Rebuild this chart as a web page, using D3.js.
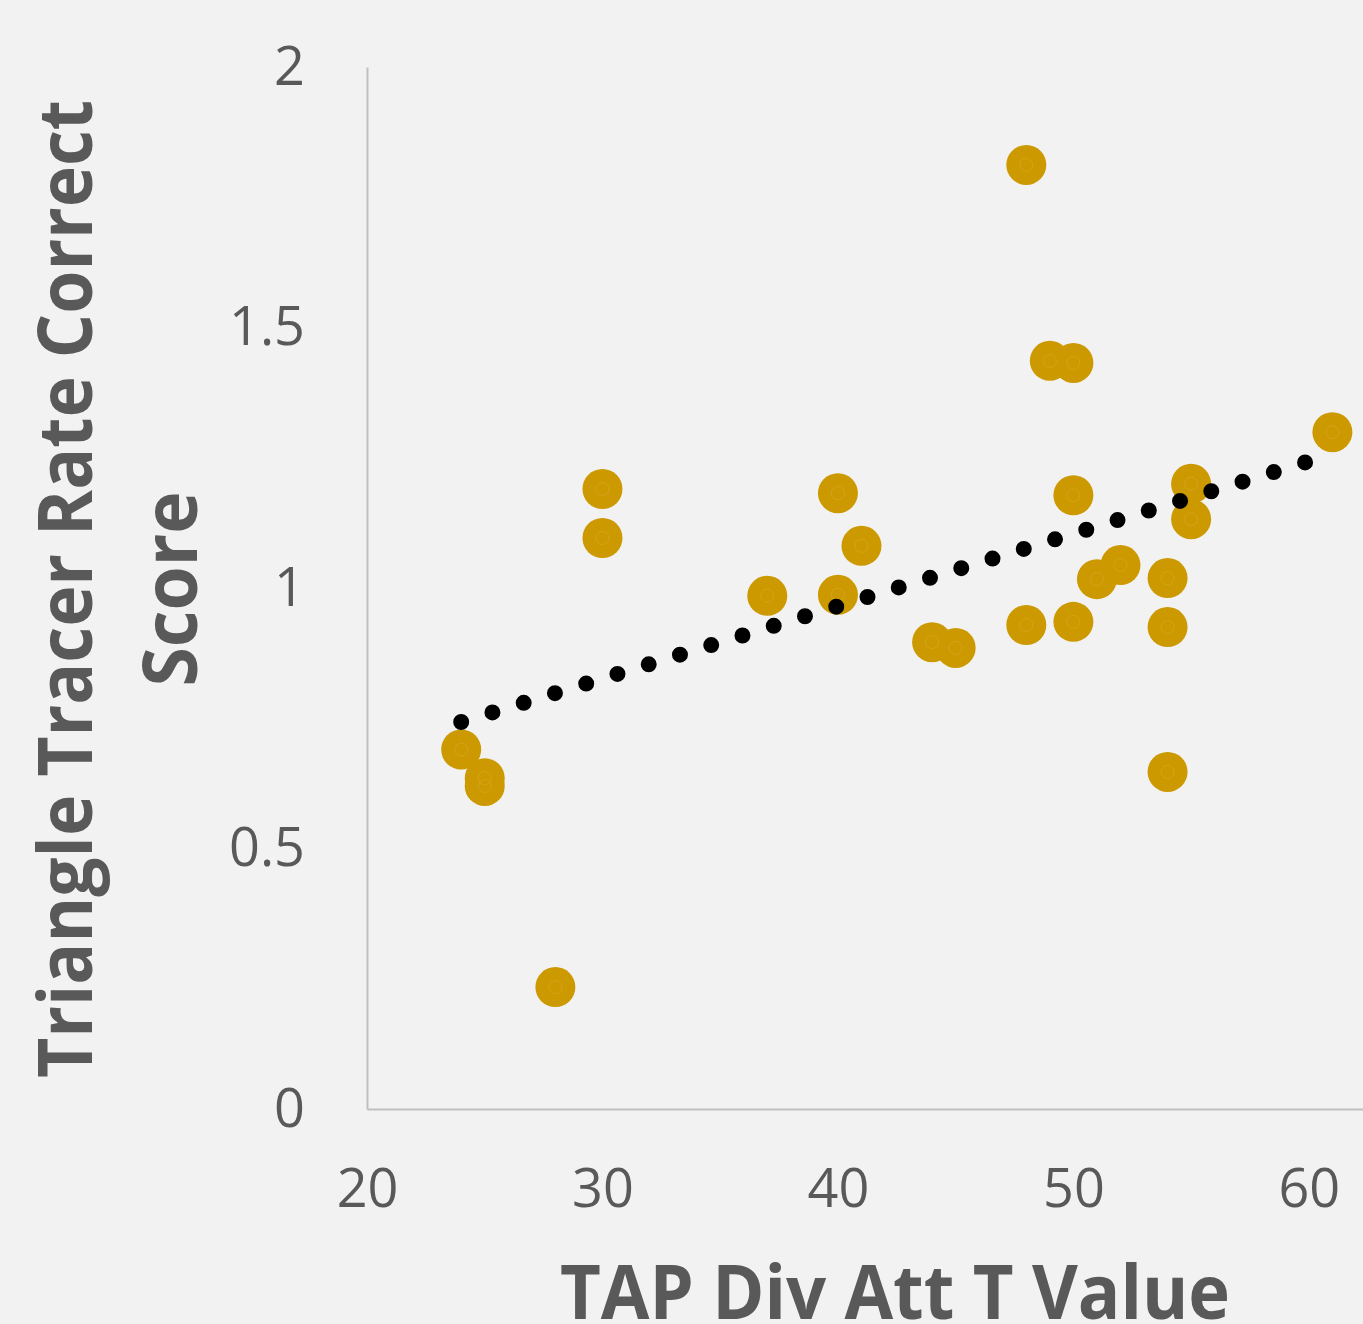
<!DOCTYPE html>
<html>
<head>
<meta charset="utf-8">
<script src="https://cdn.jsdelivr.net/npm/d3@7"></script>
<style>
  html, body { margin: 0; padding: 0; background: #f2f2f2; }
  #chart { width: 1363px; height: 1324px; }
</style>
</head>
<body>
<div id="chart"></div>
<script>
// values
const tapValues = [24, 25, 25, 28, 30, 30, 37, 40, 40, 41, 44, 45, 48, 48, 49, 50, 50, 50, 51, 52, 54, 54, 54, 55, 55, 61];
const tracerScores = [0.69, 0.635, 0.62, 0.234, 1.19, 1.096, 0.985, 1.182, 0.987, 1.081, 0.896, 0.885, 1.812, 0.929,
    1.436, 1.432, 1.178, 0.935, 1.017, 1.044, 1.019, 0.925, 0.647, 1.2, 1.132, 1.299];
const xTicks = [20, 30, 40, 50, 60];
const yTicks = [0, 0.5, 1, 1.5, 2];
const xTitle = "TAP Div Att T Value";
const yTitleLines = ["Triangle Tracer Rate Correct", "Score"];

const width = 1363, height = 1324;
const textColor = "#595959";
const markerColor = "#cc9900";

const svg = d3.select("#chart").append("svg")
    .attr("width", width)
    .attr("height", height)
    .attr("viewBox", `0 0 ${width} ${height}`)
    .style("background-color", "#f2f2f2");

const xScale = d3.scaleLinear().domain([20, 62.3]).range([367, 1363]);
const yScale = d3.scaleLinear().domain([0, 2]).range([1109, 67]);

// axes
const xAxis = svg.append("g")
    .attr("transform", `translate(0,${yScale(0)})`)
    .call(d3.axisBottom(xScale).tickValues(xTicks).tickSize(0).tickPadding(60).tickFormat(d => d));
const yAxis = svg.append("g")
    .attr("transform", `translate(${xScale(20)},0)`)
    .call(d3.axisLeft(yScale).tickValues(yTicks).tickSize(0).tickPadding(62).tickFormat(d => d));

[xAxis, yAxis].forEach(ax => {
    ax.select(".domain").attr("stroke", "#bfbfbf").attr("stroke-width", 2);
    ax.selectAll("text")
        .attr("fill", textColor)
        .style("font-family", "'Open Sans', sans-serif")
        .style("font-size", "54px");
});

// points
const pts = tapValues.map((x, i) => ({x: x, y: tracerScores[i]}));
const dots = svg.append("g").attr("class", "points");
dots.selectAll("circle.pt")
    .data(pts)
    .join("circle")
    .attr("class", "pt")
    .attr("cx", d => xScale(d.x))
    .attr("cy", d => yScale(d.y))
    .attr("r", 20)
    .attr("fill", markerColor);
dots.selectAll("circle.ring")
    .data(pts)
    .join("circle")
    .attr("class", "ring")
    .attr("cx", d => xScale(d.x))
    .attr("cy", d => yScale(d.y))
    .attr("r", 6.5)
    .attr("fill", "none")
    .attr("stroke", "rgba(255,255,255,0.1)")
    .attr("stroke-width", 1);

// linear trendline (least squares)
const mx = d3.mean(tapValues), my = d3.mean(tracerScores);
const slope = d3.sum(pts, d => (d.x - mx) * (d.y - my)) / d3.sum(pts, d => (d.x - mx) ** 2);
const intercept = my - slope * mx;
const xr = d3.extent(tapValues);
const trend = xr.map(x => ({x: x, y: intercept + slope * x}));
svg.append("path")
    .datum(trend)
    .attr("d", d3.line().x(d => xScale(d.x)).y(d => yScale(d.y)))
    .attr("fill", "none")
    .attr("stroke", "#000")
    .attr("stroke-width", 16)
    .attr("stroke-linecap", "round")
    .attr("stroke-dasharray", "0 32.7");

// titles
svg.append("text")
    .attr("x", 895)
    .attr("y", 1319)
    .attr("text-anchor", "middle")
    .attr("textLength", 670)
    .attr("lengthAdjust", "spacingAndGlyphs")
    .attr("fill", textColor)
    .style("font-family", "'Open Sans', sans-serif")
    .style("font-weight", "bold")
    .style("font-size", "76px")
    .text(xTitle);

const yTitle = svg.append("g");
yTitle.selectAll("text")
    .data(yTitleLines)
    .join("text")
    .attr("transform", (d, i) => `translate(${i === 0 ? 92 : 197},589) rotate(-90)`)
    .attr("text-anchor", "middle")
    .attr("textLength", (d, i) => i === 0 ? 978 : 195)
    .attr("lengthAdjust", "spacingAndGlyphs")
    .attr("fill", textColor)
    .style("font-family", "'Open Sans', sans-serif")
    .style("font-weight", "bold")
    .style("font-size", "76px")
    .text(d => d);
</script>
</body>
</html>
